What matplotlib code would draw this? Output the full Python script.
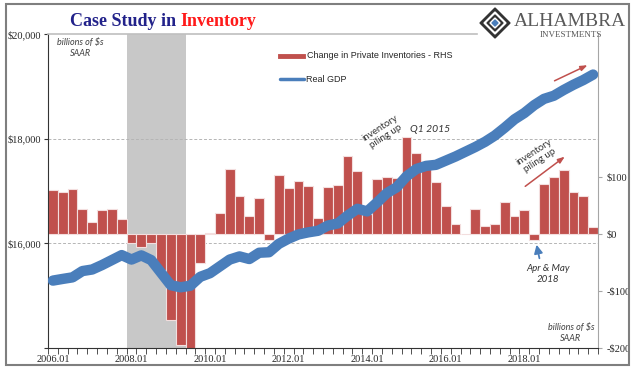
import numpy as np
import matplotlib.pyplot as plt
from matplotlib.lines import Line2D
from matplotlib.patches import Rectangle, Polygon

# quarterly, 2006Q1 .. 2019Q4
tick_labels = ["2006.01", "2008.01", "2010.01", "2012.01", "2014.01", "2016.01", "2018.01"]

inventories = [76, 74, 78, 43, 20, 41, 43, 26,
               -16, -23, -16, -63, -151, -195, -205, -51,
               1, 36, 113, 66, 31, 62, -11, 103,
               81, 92, 84, 28, 82, 86, 136, 110,
               35, 96, 100, 98, 170, 142, 120, 90,
               48, 18, -1, 44, 14, 18, 56, 31,
               41, -10, 87, 100, 112, 74, 66, 12]

real_gdp = [15288, 15320, 15350, 15470, 15500, 15585, 15680, 15775,
            15690, 15770, 15680, 15440, 15200, 15160, 15190, 15360,
            15430, 15560, 15690, 15750, 15700, 15820, 15830, 15990,
            16090, 16170, 16210, 16240, 16340, 16380, 16530, 16660,
            16610, 16780, 16960, 17070, 17280, 17420, 17480, 17500,
            17580, 17660, 17750, 17840, 17940, 18060, 18210, 18370,
            18490, 18640, 18760, 18820, 18930, 19030, 19120, 19225]

recession = (7.5, 13.5)

RED = "#c0504d"
BLUE = "#4a7ebb"
W, H = 640, 371


def fx(px):
    return px / W


def fy(py):
    return 1 - py / H


fig = plt.figure(figsize=(6.4, 3.71), dpi=100)
ax = fig.add_axes([fx(48), fy(348), 550 / W, 314 / H])
ax2 = ax.twinx()
ax.set_zorder(ax2.get_zorder() + 1)
ax.patch.set_visible(False)

x = np.arange(len(inventories))

# bars (RHS) underneath
ax2.axvspan(*recession, color="#c8c8c8", lw=0, zorder=0)
for v in (16000, 18000):
    ax2.add_line(Line2D([0, 1], [v, v], transform=ax.get_yaxis_transform(),
                        ls=(0, (3, 2)), color="#b5b5b5", lw=0.7, zorder=1))
ax2.bar(x, inventories, width=1.0, color=RED, edgecolor="#f3dede", linewidth=0.8, zorder=2)
ax2.set_ylim(-200, 350)
ax2.set_yticks([-200, -100, 0, 100])
ax2.set_yticklabels(["-$200", "-$100", "$0", "$100"])

# GDP line on top
ax.plot(x, real_gdp, color=BLUE, lw=7.5, solid_capstyle="round", zorder=3)
ax.set_ylim(14000, 20000)
ax.set_yticks([14000, 16000, 18000, 20000])
ax.set_yticklabels(["", "$16,000", "$18,000", "$20,000"])
ax.set_xlim(-0.5, 55.5)
ax.set_xticks(np.arange(0, 56, 8))
ax.set_xticklabels(tick_labels)
ax.set_xticks(np.arange(-0.5, 56, 1), minor=True)

tick_font = dict(family="Liberation Serif", size=7.5)
for lab in ax.get_xticklabels() + ax.get_yticklabels() + ax2.get_yticklabels():
    lab.set_fontfamily(tick_font["family"])
    lab.set_fontsize(tick_font["size"])
    lab.set_color("#262626")

ax.tick_params(axis="x", which="major", length=0, pad=5)
ax.tick_params(axis="x", which="minor", length=4, direction="out", color="#333333")
ax.tick_params(axis="y", length=3, direction="out", color="#333333", pad=2)
ax2.tick_params(axis="y", length=3, direction="out", color="#a6a6a6", pad=3)

for s in ("top", "right"):
    ax.spines[s].set_visible(False)
for s in ("top", "left", "bottom"):
    ax2.spines[s].set_visible(False)
ax.spines["left"].set_color("#333333")
ax.spines["bottom"].set_color("#333333")
ax2.spines["right"].set_color("#a6a6a6")

# top rule and outer frame
fig.add_artist(Line2D([fx(48), fx(477)], [fy(34), fy(34)], color="#bfbfbf", lw=1.2))
fig.add_artist(Rectangle((fx(6), fy(365)), 623 / W, 361 / H, fill=False,
                         edgecolor="#7f7f7f", lw=1.5, transform=fig.transFigure))

# title
t1 = fig.text(fx(70), fy(22), "Case Study in ", family="Liberation Serif", weight="bold",
              size=13, color="#22228a", va="center")
fig.canvas.draw()
bb = t1.get_window_extent()
fig.text(bb.x1 / W, fy(22), "Inventory", family="Liberation Serif", weight="bold",
         size=13, color="#ff1a1a", va="center")

# logo
cx, cy = 495, 23
for scale, col in [(15, "#333333"), (11, "white"), (8, "#333333"), (5, "white"), (3, BLUE)]:
    pts = [(fx(cx - scale), fy(cy)), (fx(cx), fy(cy - scale)),
           (fx(cx + scale), fy(cy)), (fx(cx), fy(cy + scale))]
    fig.add_artist(Polygon(pts, closed=True, color=col, transform=fig.transFigure))
fig.text(fx(570), fy(21), "ALHAMBRA", family="Liberation Serif", size=14,
         color="#595959", ha="center", va="center")
fig.text(fx(571), fy(35), "INVESTMENTS", family="Liberation Serif", size=6.5,
         color="#595959", ha="center", va="center")

# legend
fig.add_artist(Line2D([fx(280), fx(303)], [fy(56), fy(56)], color=RED, lw=3.5))
fig.text(fx(307), fy(56), "Change in Private Inventories - RHS", family="Liberation Sans",
         size=6.5, color="#262626", va="center")
fig.add_artist(Line2D([fx(280), fx(304)], [fy(79), fy(79)], color=BLUE, lw=2.5,
                      solid_capstyle="round"))
fig.text(fx(306), fy(79), "Real GDP", family="Liberation Sans", size=6.5,
         color="#262626", va="center")

# notes
note = dict(family="Lato", style="italic", size=6.5, color="#404040",
            ha="center", va="center", linespacing=1.3)
fig.text(fx(80), fy(48), "billions of $s\nSAAR", **note)
fig.text(fx(571), fy(333), "billions of $s\nSAAR", **note)

rot = dict(family="Lato", size=7, color="#333333", ha="center", va="center",
           rotation=33, rotation_mode="anchor", linespacing=1.2)
fig.text(fx(383), fy(132), "inventory\npiling up", **rot)
fig.text(fx(537), fy(156), "inventory\npiling up", **rot)
fig.text(fx(430), fy(130), "Q1 2015", family="Lato", style="italic", size=7.5,
         color="#333333", ha="center", va="center")
fig.text(fx(548), fy(274), "Apr & May\n2018", family="Lato", style="italic", size=7,
         color="#333333", ha="center", va="center", linespacing=1.4)

arrow_red = dict(arrowstyle="-|>,head_length=0.4,head_width=0.15", color=RED, lw=1.1)
fig.add_artist(plt.Annotation("", xy=(fx(567), fy(155)), xytext=(fx(523), fy(188)),
                              xycoords="figure fraction", arrowprops=arrow_red))
fig.add_artist(plt.Annotation("", xy=(fx(590), fy(64)), xytext=(fx(552), fy(82)),
                              xycoords="figure fraction", arrowprops=arrow_red))
fig.add_artist(plt.Annotation("", xy=(fx(536), fy(242)), xytext=(fx(540), fy(261)),
                              xycoords="figure fraction",
                              arrowprops=dict(arrowstyle="-|>,head_length=0.5,head_width=0.25",
                                              color=BLUE, lw=1.3)))

fig.savefig("out.png", dpi=100)
